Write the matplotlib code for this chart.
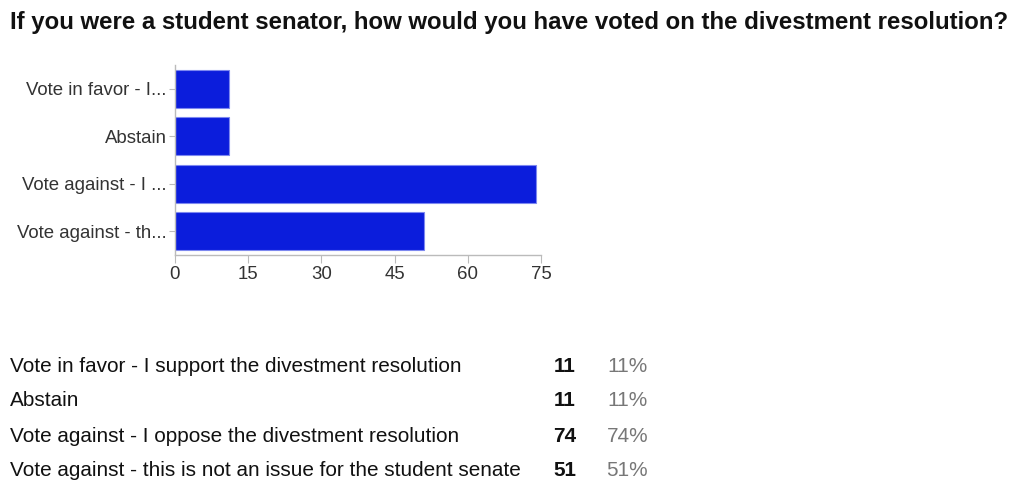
import matplotlib.pyplot as plt
import numpy as np

plt.rcParams['font.family'] = ['Liberation Sans', 'DejaVu Sans']

# Survey data
short_labels = ['Vote in favor - I...', 'Abstain', 'Vote against - I ...', 'Vote against - th...']
full_labels = ['Vote in favor - I support the divestment resolution',
               'Abstain',
               'Vote against - I oppose the divestment resolution',
               'Vote against - this is not an issue for the student senate']
counts = [11, 11, 74, 51]
percents = [11, 11, 74, 51]
xticks = [0, 15, 30, 45, 60, 75]

W, H = 1024, 495
fig = plt.figure(figsize=(W / 100, H / 100), dpi=100)

fig.text(10 / W, 1 - 22 / H,
         'If you were a student senator, how would you have voted on the divestment resolution?',
         fontsize=17.3, fontweight='bold', ha='left', va='center', color='#111111')

# bar chart
ax = fig.add_axes([175 / W, 1 - 255 / H, 366 / W, 190 / H])
y = np.arange(len(counts))
ax.barh(y, counts, height=0.8, color='#0b1ddc', edgecolor='#7d88f0', linewidth=0.8)
ax.set_ylim(len(counts) - 0.5, -0.5)
ax.set_xlim(0, 75)
ax.set_yticks(y)
ax.set_yticklabels(short_labels, fontsize=13.4, color='#333333')
ax.set_xticks(xticks)
ax.set_xticklabels([str(t) for t in xticks], fontsize=13.4, color='#333333')
for s in ['top', 'right']:
    ax.spines[s].set_visible(False)
for s in ['left', 'bottom']:
    ax.spines[s].set_color('#bbbbbb')
    ax.spines[s].set_linewidth(1)
ax.tick_params(axis='y', length=4, color='#bbbbbb', pad=2)
ax.tick_params(axis='x', length=6, color='#bbbbbb', pad=2)

# summary table
row_y = [366, 401, 436, 470]
for lab, c, p, ry in zip(full_labels, counts, percents, row_y):
    yy = 1 - ry / H
    fig.text(10 / W, yy, lab, fontsize=14.95, ha='left', va='center', color='#111111')
    fig.text(576 / W, yy, str(c), fontsize=14.95, fontweight='bold', ha='right', va='center', color='#111111')
    fig.text(648 / W, yy, f'{p}%', fontsize=14.95, ha='right', va='center', color='#777777')

fig.savefig('out.png', dpi=100)
